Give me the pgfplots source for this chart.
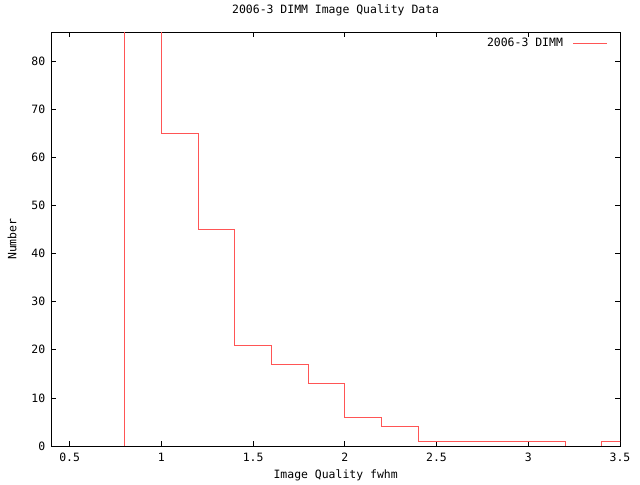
\documentclass[border=0pt]{standalone}
\usepackage{pgfplots}
\pgfplotsset{compat=1.18}
\usepackage{fontspec}
\setmainfont{DejaVu Sans Mono}
\definecolor{gpred}{RGB}{255,85,85}
\begin{document}
\fontsize{11.5}{13}\selectfont
\begin{tikzpicture}
\path (-51.3bp,-34bp) rectangle (588.7bp,446bp);
\begin{axis}[
  at={(0,0)}, anchor=south west,
  scale only axis,
  width=568.7bp, height=413.7bp,
  xmin=0.4, xmax=3.5, ymin=0, ymax=86,
  xtick={0.5,1,1.5,2,2.5,3,3.5},
  ytick={0,10,20,30,40,50,60,70,80},
  tick align=inside,
  major tick length=5bp,
  tick style={black, line width=0.75pt},
  axis line style={black, line width=0.75pt},
  /pgf/number format/assume math mode=true,
  ticklabel style={font=\fontsize{11.5}{13}\selectfont},
  xticklabel style={yshift=-3bp},
  yticklabel style={xshift=-2bp},
  title={2006-3 DIMM Image Quality Data},
  title style={at={(0.5,1)}, anchor=center, yshift=16.3bp, font=\fontsize{11.5}{13}\selectfont},
  xlabel={Image Quality fwhm},
  ylabel={Number},
  xlabel style={at={(0.5,0)}, anchor=center, yshift=-29bp, font=\fontsize{11.5}{13}\selectfont},
  ylabel style={at={(axis description cs:-0.0691,0.5)}, anchor=center, font=\fontsize{11.5}{13}\selectfont},
  legend style={draw=none, fill=none, at={(1,1)}, anchor=north east, xshift=-12.3bp, yshift=-4bp, font=\fontsize{11.5}{13}\selectfont, inner sep=0pt},
  legend plot pos=right,
  legend image code/.code={\path (0bp,0bp); \draw[#1] (8bp,0bp) -- (41.7bp,0bp);},
  legend cell align=right,
]
\addplot[const plot, color=gpred, line width=0.9pt] coordinates {
(0.6,0) (0.8,120) (1.0,65) (1.2,45) (1.4,21) (1.6,17) (1.8,13) (2.0,6) (2.2,4) (2.4,1) (2.6,1) (2.8,1) (3.0,1) (3.2,0) (3.4,1) (3.6,1)
};
\addlegendentry{2006-3 DIMM}
\end{axis}
\end{tikzpicture}
\end{document}
